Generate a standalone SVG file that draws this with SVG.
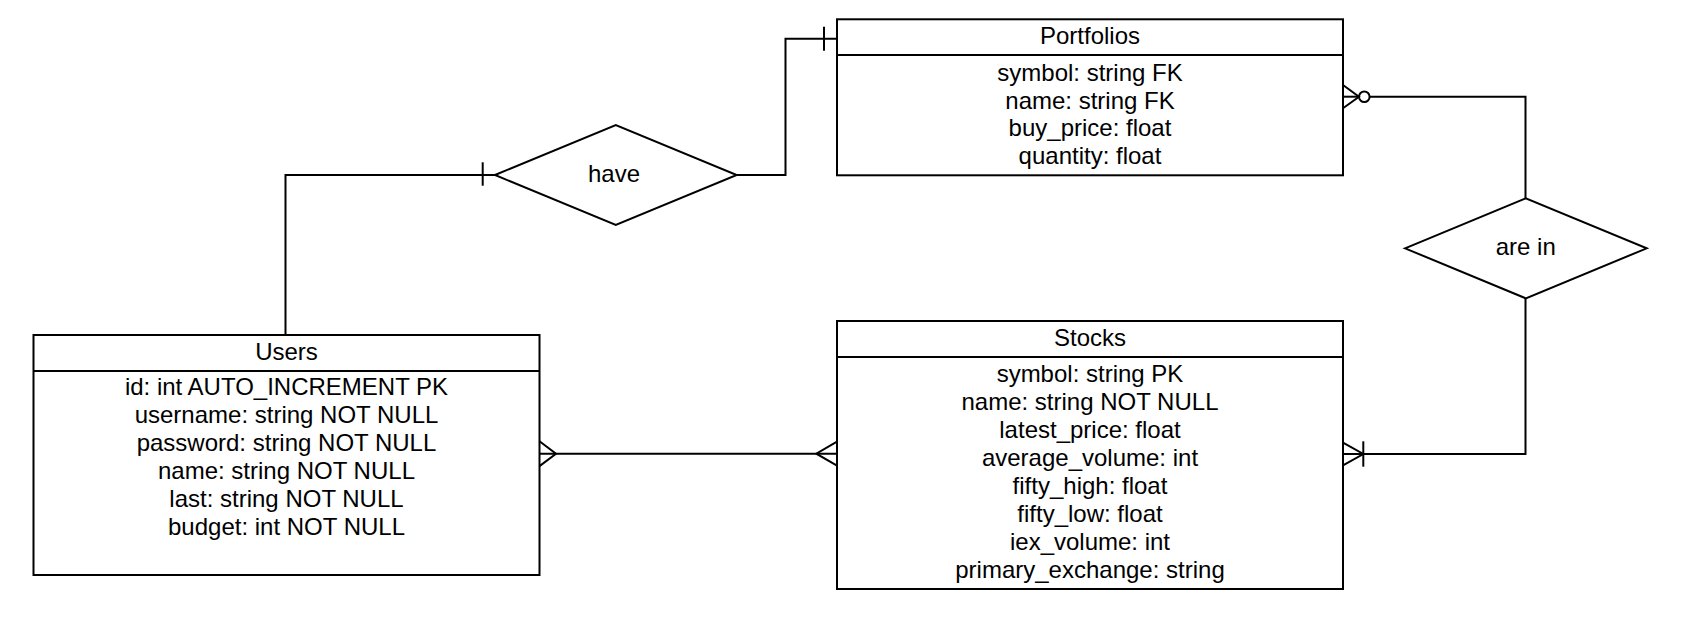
<svg xmlns="http://www.w3.org/2000/svg" width="1683" height="632" viewBox="0 0 1683 632">
<style>
  .box{fill:#fff;stroke:#000;stroke-width:2}
  .sep{stroke:#000;stroke-width:2}
  .dia{fill:#fff;stroke:#000;stroke-width:2}
  .t{font-family:"Liberation Sans",Arial,sans-serif;font-size:24px;fill:#000;text-anchor:middle}
  .c{fill:none;stroke:#000;stroke-width:2}
</style>
<rect width="1683" height="632" fill="#fff"/>

<g id="connectors">
  <!-- Users to have -->
  <polyline class="c" points="285.5,335 285.5,175 495,175"/>
  <line class="c" x1="482.7" y1="162.3" x2="482.7" y2="185.7"/>
  <!-- have to Portfolios -->
  <polyline class="c" points="736.7,175 785.5,175 785.5,38.7 837,38.7"/>
  <line class="c" x1="824" y1="26.7" x2="824" y2="50.7"/>
  <!-- are in to Portfolios (zero or many) -->
  <polyline class="c" points="1525.5,198.3 1525.5,96.7 1369.6,96.7"/>
  <circle class="c" cx="1364.3" cy="96.7" r="5.3"/>
  <line class="c" x1="1343" y1="96.7" x2="1359" y2="96.7"/>
  <polyline class="c" points="1343,85 1359,96.7 1343,108.3"/>
  <!-- are in to Stocks (one or many) -->
  <polyline class="c" points="1525.5,298.3 1525.5,454 1343,454"/>
  <polyline class="c" points="1343,442.7 1363.3,454 1343,465.3"/>
  <line class="c" x1="1363.3" y1="441.3" x2="1363.3" y2="466.7"/>
  <!-- Users to Stocks (many to many) -->
  <line class="c" x1="539.5" y1="453.7" x2="837" y2="453.7"/>
  <polyline class="c" points="539.5,441.3 556,453.7 539.5,466.1"/>
  <polyline class="c" points="837,441.7 816.3,453.7 837,465.7"/>
</g>

<g id="portfolios">
  <rect class="box" x="837" y="19.3" width="506" height="156"/>
  <line class="sep" x1="837" y1="55" x2="1343" y2="55"/>
  <text class="t" x="1090" y="44">Portfolios</text>
  <text class="t" x="1090" y="81">symbol: string FK</text>
  <text class="t" x="1090" y="108.6">name: string FK</text>
  <text class="t" x="1090" y="136.2">buy_price: float</text>
  <text class="t" x="1090" y="163.8">quantity: float</text>
</g>

<g id="users">
  <rect class="box" x="33.5" y="335" width="506" height="240"/>
  <line class="sep" x1="33.5" y1="371" x2="539.5" y2="371"/>
  <text class="t" x="286.5" y="359.5">Users</text>
  <text class="t" x="286.5" y="395">id: int AUTO_INCREMENT PK</text>
  <text class="t" x="286.5" y="423">username: string NOT NULL</text>
  <text class="t" x="286.5" y="451">password: string NOT NULL</text>
  <text class="t" x="286.5" y="479">name: string NOT NULL</text>
  <text class="t" x="286.5" y="507">last: string NOT NULL</text>
  <text class="t" x="286.5" y="535">budget: int NOT NULL</text>
</g>

<g id="stocks">
  <rect class="box" x="837" y="321" width="506" height="268"/>
  <line class="sep" x1="837" y1="357" x2="1343" y2="357"/>
  <text class="t" x="1090" y="346">Stocks</text>
  <text class="t" x="1090" y="381.7">symbol: string PK</text>
  <text class="t" x="1090" y="409.7">name: string NOT NULL</text>
  <text class="t" x="1090" y="437.7">latest_price: float</text>
  <text class="t" x="1090" y="465.7">average_volume: int</text>
  <text class="t" x="1090" y="493.7">fifty_high: float</text>
  <text class="t" x="1090" y="521.7">fifty_low: float</text>
  <text class="t" x="1090" y="549.7">iex_volume: int</text>
  <text class="t" x="1090" y="577.7">primary_exchange: string</text>
</g>

<g id="have">
  <polygon class="dia" points="495,175 615.8,125 736.7,175 615.8,225"/>
  <text class="t" x="614" y="182">have</text>
</g>

<g id="are-in">
  <polygon class="dia" points="1405,248.3 1525.8,198.3 1646.7,248.3 1525.8,298.3"/>
  <text class="t" x="1525.8" y="255.3">are in</text>
</g>
</svg>
